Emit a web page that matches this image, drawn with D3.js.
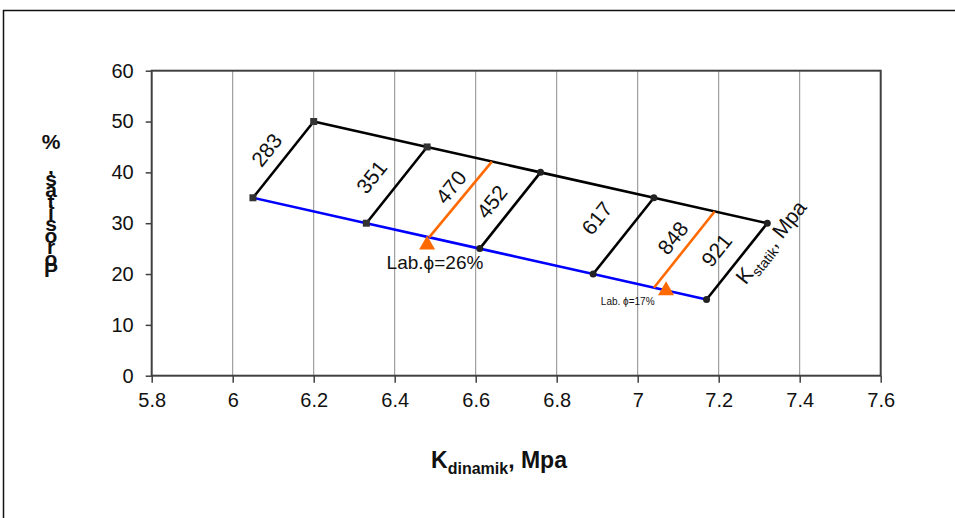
<!DOCTYPE html>
<html lang="id">
<head>
<meta charset="UTF-8">
<title>K dinamik vs porositas</title>
<script src="https://d3js.org/d3.v7.min.js"></script>
<style>
    body { margin: 0; background: white; }
    svg { font-family: Arial, "Liberation Sans", sans-serif; }
</style>
</head>
<body>
<svg id="chart" width="955" height="518"></svg>
<script>
    // data
    const xTicks = [5.8, 6, 6.2, 6.4, 6.6, 6.8, 7, 7.2, 7.4, 7.6];
    const yTicks = [0, 10, 20, 30, 40, 50, 60];

    // upper (black) line and lower (blue) line
    const topX = [6.2, 6.48, 6.76, 7.04, 7.32];
    const topY = [50, 45, 40, 35, 30];
    const botX = [6.05, 6.33, 6.61, 6.89, 7.17];
    const botY = [35, 30, 25, 20, 15];
    const markerShape = ['square', 'square', 'circle', 'circle', 'circle'];

    // orange lines for the lab samples
    const labLineX1 = [6.485, 7.04];
    const labLineY1 = [27.2, 17.3];
    const labLineX2 = [6.64, 7.19];
    const labLineY2 = [42.1, 32.3];
    const labX = [6.48, 7.07];
    const labY = [26, 17];
    const labText = ['Lab.\u03D5=26%', 'Lab. \u03D5=17%'];
    const labTextX = [6.38, 6.909];
    const labTextY = [21.0, 13.9];

    // K statik labels along the slanted lines
    const kLabels = ['283', '351', '470', '452', '617', '848', '921'];
    const kLabelX = [6.084, 6.343, 6.539, 6.640, 6.899, 7.087, 7.195];
    const kLabelY = [44.4, 39.1, 37.1, 34.2, 31.0, 27.1, 24.7];

    const svg = d3.select('#chart');

    const x = d3.scaleLinear().domain([5.8, 7.6]).range([151.7, 880.7]);
    const y = d3.scaleLinear().domain([0, 60]).range([375.7, 70.7]);

    // outer frame (cut off at right and bottom)
    svg.append('rect')
        .attr('x', 3.5).attr('y', 10.5)
        .attr('width', 1000).attr('height', 1000)
        .attr('fill', 'none')
        .attr('stroke', '#111')
        .attr('stroke-width', 1.5);

    // vertical gridlines
    svg.append('g').selectAll('line')
        .data(xTicks.slice(1, -1))
        .enter()
        .append('line')
        .attr('x1', d => x(d)).attr('x2', d => x(d))
        .attr('y1', y(0)).attr('y2', y(60))
        .attr('stroke', '#8c8c8c')
        .attr('stroke-width', 1);

    // axes
    const xAxis = svg.append('g')
        .attr('transform', `translate(0,${y(0)})`)
        .call(d3.axisBottom(x).tickValues(xTicks).tickFormat(d => String(d)).tickSize(7).tickPadding(10));
    const yAxis = svg.append('g')
        .attr('transform', `translate(${x(5.8)},0)`)
        .call(d3.axisLeft(y).tickValues(yTicks).tickSize(6).tickPadding(12));
    [xAxis, yAxis].forEach(g => {
        g.select('.domain').remove();
        g.selectAll('.tick line').attr('stroke', '#404040').attr('stroke-width', 1.5);
        g.selectAll('.tick text')
            .attr('font-family', 'Arial, "Liberation Sans", sans-serif')
            .attr('font-size', 20)
            .attr('fill', '#111');
    });

    // plot border
    svg.append('rect')
        .attr('x', x(5.8)).attr('y', y(60))
        .attr('width', x(7.6) - x(5.8)).attr('height', y(0) - y(60))
        .attr('fill', 'none')
        .attr('stroke', '#404040')
        .attr('stroke-width', 2);

    const line = d3.line().x(d => x(d[0])).y(d => y(d[1]));

    const topPts = topX.map((v, i) => [v, topY[i]]);
    const botPts = botX.map((v, i) => [v, botY[i]]);

    svg.append('path')
        .attr('d', line(topPts))
        .attr('fill', 'none').attr('stroke', 'black').attr('stroke-width', 2.6);
    svg.append('path')
        .attr('d', line(botPts))
        .attr('fill', 'none').attr('stroke', '#0000ff').attr('stroke-width', 2.6);

    // slanted black lines between the two
    svg.append('g').selectAll('line')
        .data(topPts)
        .enter()
        .append('line')
        .attr('x1', (d, i) => x(botX[i])).attr('y1', (d, i) => y(botY[i]))
        .attr('x2', d => x(d[0])).attr('y2', d => y(d[1]))
        .attr('stroke', 'black').attr('stroke-width', 2.6);

    // orange lines
    svg.append('g').selectAll('line')
        .data(labLineX1)
        .enter()
        .append('line')
        .attr('x1', d => x(d)).attr('y1', (d, i) => y(labLineY1[i]))
        .attr('x2', (d, i) => x(labLineX2[i])).attr('y2', (d, i) => y(labLineY2[i]))
        .attr('stroke', '#ff6a00').attr('stroke-width', 2.6);

    // markers
    const allPts = topPts.map((p, i) => ({ p: p, s: markerShape[i] }))
        .concat(botPts.map((p, i) => ({ p: p, s: markerShape[i] })));
    svg.append('g').selectAll('rect')
        .data(allPts.filter(d => d.s == 'square'))
        .enter()
        .append('rect')
        .attr('x', d => x(d.p[0]) - 3.5).attr('y', d => y(d.p[1]) - 3.5)
        .attr('width', 7).attr('height', 7)
        .attr('fill', '#333');
    svg.append('g').selectAll('circle')
        .data(allPts.filter(d => d.s == 'circle'))
        .enter()
        .append('circle')
        .attr('cx', d => x(d.p[0])).attr('cy', d => y(d.p[1]))
        .attr('r', 3.5)
        .attr('fill', '#222');

    // lab triangles
    svg.append('g').selectAll('path')
        .data(labX)
        .enter()
        .append('path')
        .attr('d', (d, i) => {
            const cx = x(d), cy = y(labY[i]);
            return `M${cx},${cy - 8}L${cx + 8},${cy + 6}L${cx - 8},${cy + 6}Z`;
        })
        .attr('fill', '#ff6a00');

    svg.append('g').selectAll('text')
        .data(labText)
        .enter()
        .append('text')
        .attr('x', (d, i) => x(labTextX[i]))
        .attr('y', (d, i) => y(labTextY[i]))
        .attr('font-size', (d, i) => i == 0 ? 19 : 10)
        .attr('fill', '#111')
        .text(d => d);

    // rotated K labels
    const angle = -Math.atan2(y(botY[0]) - y(topY[0]), x(topX[0]) - x(botX[0])) * 180 / Math.PI;
    svg.append('g').selectAll('text')
        .data(kLabels)
        .enter()
        .append('text')
        .attr('transform', (d, i) => `translate(${x(kLabelX[i])},${y(kLabelY[i])}) rotate(${angle})`)
        .attr('text-anchor', 'middle')
        .attr('dy', '0.35em')
        .attr('font-size', 21)
        .attr('fill', '#111')
        .text(d => d);

    const kst = svg.append('text')
        .attr('transform', `translate(${x(7.329)},${y(26.3)}) rotate(${angle})`)
        .attr('text-anchor', 'middle')
        .attr('dy', '0.35em')
        .attr('font-size', 21)
        .attr('fill', '#111');
    kst.append('tspan').text('K');
    kst.append('tspan').attr('font-size', 14).attr('dy', 5).text('statik');
    kst.append('tspan').attr('dy', -5).text(', Mpa');

    // x axis title
    const xt = svg.append('text')
        .attr('x', 499).attr('y', 468)
        .attr('text-anchor', 'middle')
        .attr('font-size', 23)
        .attr('font-weight', 'bold')
        .attr('fill', '#111');
    xt.append('tspan').text('K');
    xt.append('tspan').attr('font-size', 16).attr('dy', 6).text('dinamik');
    xt.append('tspan').attr('dy', -6).text(', Mpa');

    // y axis title: stacked letters, drawn reversed as in the original
    const yChars = Array.from('Porositas, %').reverse().filter(c => c != ' ');
    const yt = svg.append('text')
        .attr('x', 51).attr('y', 149)
        .attr('text-anchor', 'middle')
        .attr('font-size', 21)
        .attr('font-weight', 'bold')
        .attr('fill', '#111');
    yt.selectAll('tspan')
        .data(yChars)
        .enter()
        .append('tspan')
        .attr('x', 51)
        .attr('dy', (d, i) => i == 0 ? 0 : (i == 1 ? 25.4 : 11.4))
        .text(d => d);
</script>
</body>
</html>
